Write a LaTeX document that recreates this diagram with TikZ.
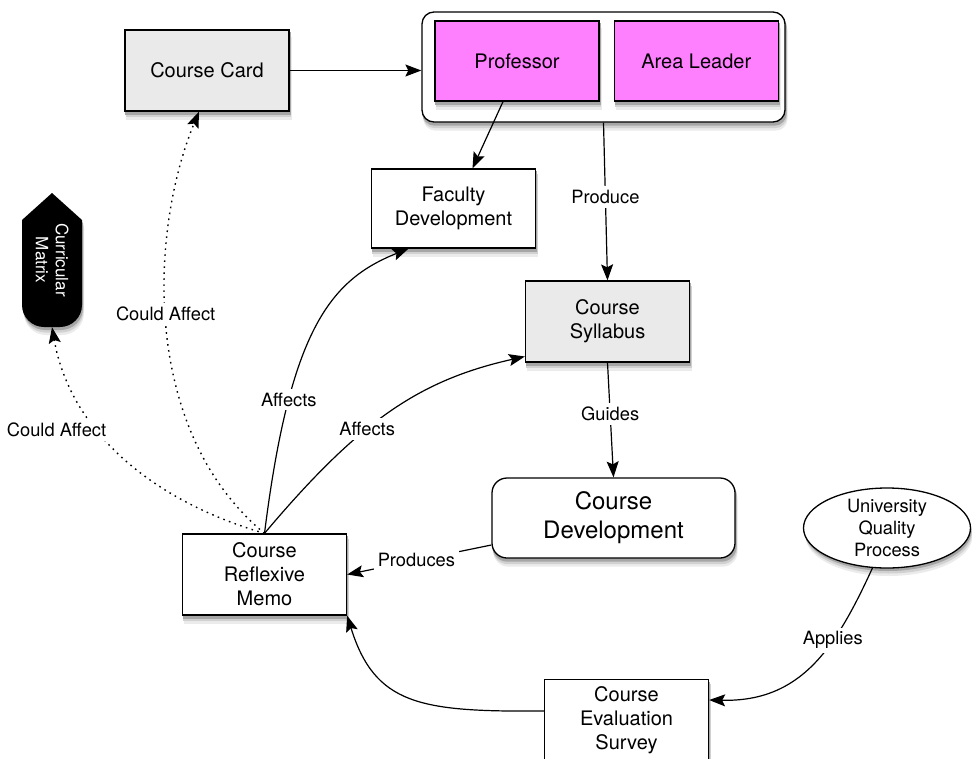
\documentclass[tikz,border=0pt]{standalone}
\usepackage{fontspec}
\setmainfont{TeX Gyre Heros}
\usepackage{xcolor}
\definecolor{cardGray}{RGB}{234,234,234}
\definecolor{rolePink}{RGB}{255,128,255}
\usepackage{tikz}
\usetikzlibrary{positioning,shapes,backgrounds,arrows.meta}
\pgfdeclarelayer{shadelayer}
\pgfsetlayers{shadelayer,background,main}

\tikzset{
  box/.style={draw, line width=1.3pt, fill=white, minimum width=164pt, minimum height=81pt, inner sep=2pt, align=center, font=\fontsize{20}{24}\selectfont},
  greyBox/.style={box, fill=cardGray},
  roleBox/.style={box, fill=rolePink, minimum height=80pt},
  tag/.style={fill=white, inner sep=4pt, font=\fontsize{18.3}{22}\selectfont},
  link/.style={line width=1.2pt, -{Stealth[length=16pt, width=12pt, inset=3pt]}},
  maybeLink/.style={link, line width=1.4pt, dash pattern=on 1.6pt off 4.4pt}
}

\begin{document}
\begin{tikzpicture}[x=1pt, y=-1pt]
\useasboundingbox (0,0) rectangle (972,758);

% top row
\node[greyBox] (card) at (207,70.5) {Course Card};
\begin{pgfonlayer}{background}
\node[draw, line width=1.3pt, fill=white, rounded corners=12pt, minimum width=363pt, minimum height=110pt] (staff) at (603.5,67) {};
\end{pgfonlayer}
\node[roleBox] (prof) at (517,61) {Professor};
\node[roleBox, right=14pt of prof] (lead) {Area Leader};

% middle
\node[box, minimum height=79pt] (faculty) at (453.5,208.5) {Faculty\\Development};
\node[greyBox] (syllabus) at (607.5,321.5) {Course\\Syllabus};
\node[box, rounded corners=15pt, minimum width=243pt, minimum height=80pt, font=\fontsize{24}{29}\selectfont] (develop) at (613.5,518) {Course\\Development};
\node[ellipse, draw, line width=1.3pt, fill=white, minimum width=167pt, minimum height=80pt, inner sep=-8pt, align=center, font=\fontsize{18.3}{22}\selectfont] (quality) at (887,528) {University\\Quality\\Process};

% curricular matrix
\fill[black] (22,220) -- (52,193) -- (82,220) -- (82,305) arc[start angle=0, end angle=-90, radius=22pt] -- (44,327) arc[start angle=-90, end angle=-180, radius=22pt] -- cycle;
\node[rotate=-90, text=white, align=center, minimum width=134pt, minimum height=60pt, inner sep=0pt, font=\fontsize{17}{20}\selectfont] (curricula) at (52,260) {Curricular\\Matrix};

% bottom
\node[box] (memo) at (264.5,574.5) {Course\\Reflexive\\Memo};
\node[box] (survey) at (626.5,720) {Course\\Evaluation\\Survey};

% shadows
\begin{pgfonlayer}{shadelayer}
\foreach \n in {card,faculty,syllabus,memo,survey}
  \foreach \dx/\dy/\g in {2/8/8, 1.5/5.5/18, 1/3/35}
    \fill[black!\g] ([xshift=\dx pt, yshift=-\dy pt]\n.south west) rectangle ([xshift=\dx pt, yshift=-\dy pt]\n.north east);
\foreach \dx/\dy/\g in {2/8/8, 1.5/5.5/18, 1/3/35} {
  \fill[black!\g, rounded corners=12pt] ([xshift=\dx pt, yshift=-\dy pt]staff.south west) rectangle ([xshift=\dx pt, yshift=-\dy pt]staff.north east);
  \fill[black!\g, rounded corners=15pt] ([xshift=\dx pt, yshift=-\dy pt]develop.south west) rectangle ([xshift=\dx pt, yshift=-\dy pt]develop.north east);
  \fill[black!\g] ([xshift=\dx pt, yshift=-\dy pt]quality.center) ellipse [x radius=83.5pt, y radius=40pt];
  \fill[black!\g, xshift=\dx pt, yshift=-\dy pt] (22,220) -- (52,193) -- (82,220) -- (82,305) arc[start angle=0, end angle=-90, radius=22pt] -- (44,327) arc[start angle=-90, end angle=-180, radius=22pt] -- cycle;
}
\end{pgfonlayer}
\begin{pgfonlayer}{background}
\foreach \n in {prof,lead}
  \foreach \dx/\dy/\g in {2/8/8, 1.5/5.5/18, 1/3/35}
    \fill[black!\g] ([xshift=\dx pt, yshift=-\dy pt]\n.south west) rectangle ([xshift=\dx pt, yshift=-\dy pt]\n.north east);
\end{pgfonlayer}

% connectors
\draw[link] (card.east) -- (card.east -| staff.west);
\draw[link] ([xshift=-14pt]prof.south) -- ([xshift=19pt]faculty.north);
\draw[link] (staff.south) -- node[tag, pos=.47] {Produce} (syllabus.north);
\draw[link] (syllabus.south) -- node[tag, pos=.45] {Guides} (develop.north);
\draw[link] ([yshift=-27pt]develop.west) -- node[tag, pos=.52] {Produces} (memo.east);
\draw[link] ([yshift=9pt]survey.west) .. controls (420,712) and (375,705) .. (memo.south east);
\draw[link] (quality.250) .. controls (835,650) and (800,702) .. node[tag, pos=.34] {Applies} ([yshift=20pt]survey.east);
\draw[link] (memo.north) .. controls (290,330) and (330,280) .. node[tag, pos=.27] {Affects} ([xshift=-45pt]faculty.south);
\draw[link] (memo.north) .. controls (360,420) and (420,380) .. node[tag, pos=.4] {Affects} ([yshift=-35pt]syllabus.west);
\draw[maybeLink] (memo.north) .. controls (140,430) and (150,230) .. node[tag, pos=.53] {Could Affect} ([xshift=-8pt]card.south);
\draw[maybeLink] (memo.north) .. controls (150,500) and (70,430) .. node[tag, pos=.62, anchor=east, xshift=13pt] {Could Affect} (curricula.east);
\end{tikzpicture}
\end{document}
